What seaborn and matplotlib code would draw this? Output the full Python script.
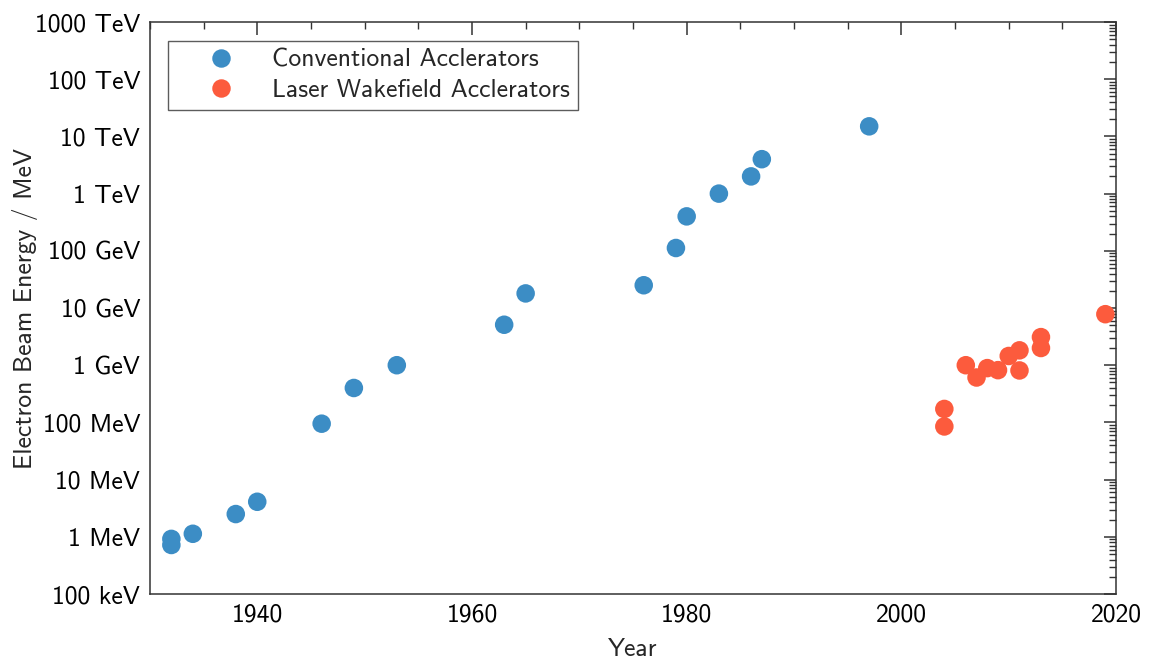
import matplotlib
matplotlib.use("Agg")
import matplotlib.pyplot as plt
import seaborn as sns
import pandas as pd
import numpy as np
from matplotlib.ticker import FixedLocator, FixedFormatter, MultipleLocator, LogLocator, NullFormatter

conv_years = [1932, 1932, 1934, 1938, 1940, 1946, 1949, 1953, 1963, 1965, 1976, 1979, 1980, 1983, 1986, 1987, 1997]
conv_energy = [0.72, 0.92, 1.13, 2.5, 4.1, 95, 400, 1000, 5100, 18000, 25000, 1.12e5, 4e5, 1e6, 2e6, 4e6, 1.5e7]

lwfa_years = [2004, 2004, 2006, 2007, 2008, 2009, 2010, 2011, 2011, 2013, 2013, 2019]
lwfa_energy = [172, 85, 1000, 610, 890, 820, 1450, 1820, 810, 3100, 2000, 7800]

series_names = ["Conventional Acclerators", "Laser Wakefield Acclerators"]
colors = ["#3c8dc5", "#fc5b3d"]

ytick_vals = [1e-1, 1, 1e1, 1e2, 1e3, 1e4, 1e5, 1e6, 1e7, 1e8, 1e9]
ytick_labels = ["100 keV", "1 MeV", "10 MeV", "100 MeV", "1 GeV", "10 GeV", "100 GeV",
                "1 TeV", "10 TeV", "100 TeV", "1000 TeV"]

df = pd.DataFrame({
    "Year": conv_years + lwfa_years,
    "Energy": conv_energy + lwfa_energy,
    "Type": [series_names[0]] * len(conv_years) + [series_names[1]] * len(lwfa_years),
})

sns.set_style("white")
plt.rcParams["font.family"] = ["cmss10", "DejaVu Sans"]
plt.rcParams["axes.unicode_minus"] = False

FS = 18.5

fig = plt.figure(figsize=(11.53, 6.59), dpi=100)
ax = fig.add_axes([0.130, 0.0986, 0.838, 0.868])

sns.scatterplot(data=df, x="Year", y="Energy", hue="Type", palette=colors,
                s=178, edgecolor="none", linewidth=0, alpha=1, ax=ax, zorder=3)

ax.set_yscale("log")
ax.set_xlim(1930, 2020)
ax.set_ylim(1e-1, 1e9)

ax.yaxis.set_major_locator(FixedLocator(ytick_vals))
ax.yaxis.set_major_formatter(FixedFormatter(ytick_labels))
ax.yaxis.set_minor_locator(LogLocator(base=10, subs=np.arange(2, 10), numticks=20))
ax.yaxis.set_minor_formatter(NullFormatter())
ax.xaxis.set_major_locator(MultipleLocator(20))
ax.xaxis.set_minor_locator(MultipleLocator(5))

ax.tick_params(which="both", direction="in", top=True, right=True, colors="#333333",
               labelcolor="black", labelsize=FS)
ax.tick_params(which="major", length=9, width=1.1, pad=7)
ax.tick_params(which="minor", length=5, width=1.0)
for sp in ax.spines.values():
    sp.set_color("#333333")
    sp.set_linewidth(1.1)

ax.set_xlabel("Year", fontsize=FS, labelpad=8)
ax.set_ylabel("Electron Beam Energy / MeV", fontsize=FS, labelpad=-2.5)

leg = ax.legend(loc="upper left", bbox_to_anchor=(0.0, 1.0), borderaxespad=0.72,
                fontsize=FS, handlelength=3.4, handletextpad=0.3, borderpad=0.33,
                labelspacing=0.26, fancybox=False, frameon=True, title=None)
for h in leg.legend_handles:
    try:
        h.set_markersize(13.3)
        h.set_markeredgewidth(0)
    except AttributeError:
        h.set_sizes([178])
leg.get_frame().set_edgecolor("#333333")
leg.get_frame().set_linewidth(1.0)

fig.savefig("out.png", dpi=100)
